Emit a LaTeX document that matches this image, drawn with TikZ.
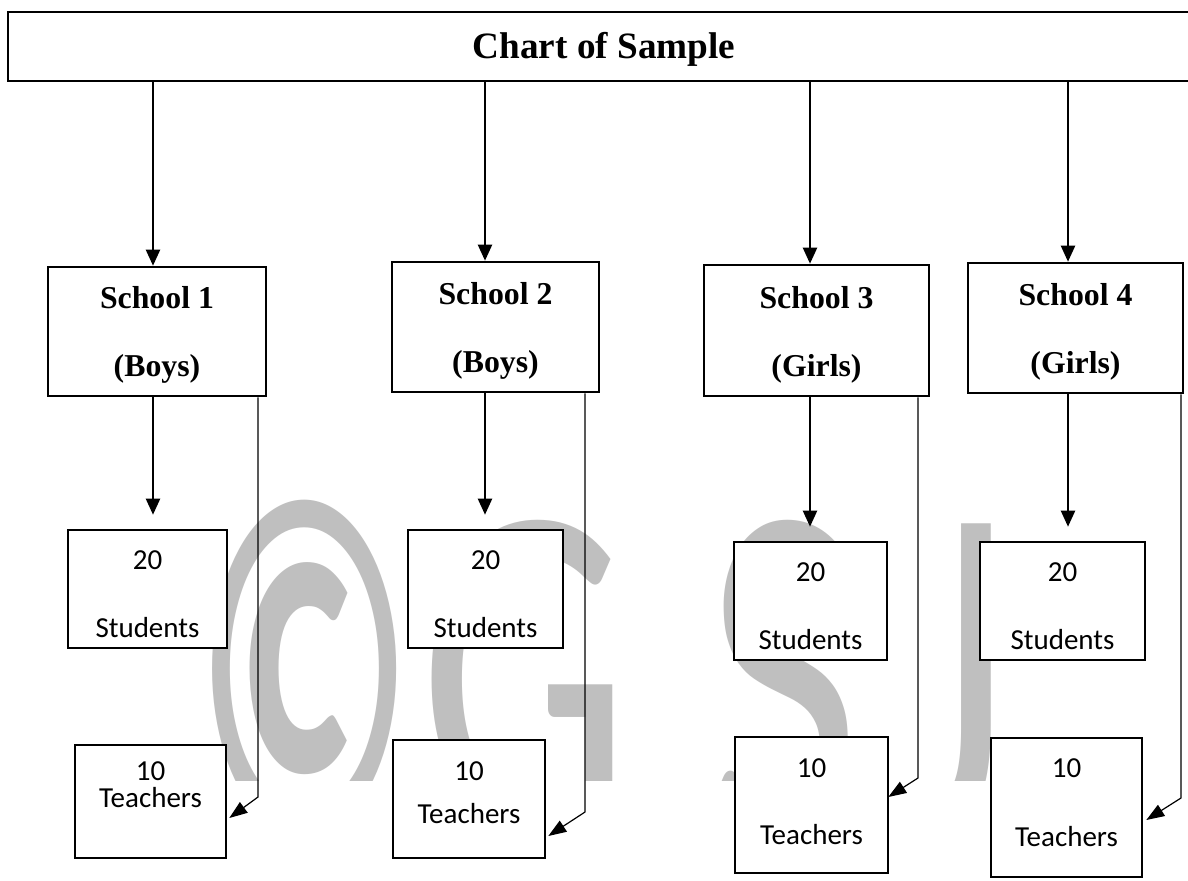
\documentclass[tikz,border=0pt]{standalone}
\usepackage{fontspec}
\setmainfont{Liberation Serif}
\newfontfamily\countfont{Carlito}
\usetikzlibrary{calc,arrows.meta,positioning}

\def\px{0.5pt}  % one pixel of the chart

\begin{document}
\begin{tikzpicture}[x=0.5pt,y=-0.5pt,
    box/.style={draw,line width=1.3pt,fill=white,inner sep=0pt,align=center},
    headbox/.style={box,text height=15.8pt,font=\bfseries\fontsize{18.6}{20}\selectfont},
    schoolbox/.style={box,text height=48.9pt,font=\bfseries\fontsize{15.9}{34pt}\selectfont},
    countbox/.style={box,font=\countfont\fontsize{14.5}{#1}\selectfont},
    arr/.style={line width=1.1pt,-{Triangle[length=8pt,width=7pt]}},
    thinarr/.style={line width=0.6pt,-{Triangle[length=9pt,width=6.5pt]}}]
    \useasboundingbox (0,0) rectangle (1188,880);
    \fill[white] (0,0) rectangle (1188,880);

    % Watermark behind the boxes, cut off at its lower part
    \begin{scope}
      \clip (0,0) rectangle (1188,780);
      \foreach \g/\gx/\sx [count=\k] in {{\bfseries ©}/305/0.79,G/525/1,S/783/1,J/957/1} {
        \node[anchor=base,inner sep=0pt,text=black!25,
              font=\countfont\fontsize{167}{167}\selectfont] (mark\k) at (\gx,834)
              {\scalebox{\sx}[1.45]{\g}};
      }
    \end{scope}

    % Title bar (runs off the right edge)
    \node[headbox,minimum width=1192*\px,minimum height=69*\px] (head) at (604,46.5)
      {Chart of Sample};

    % Schools
    \node[schoolbox,minimum width=218*\px,minimum height=129*\px] (s1) at (157,331.5) {School 1\\(Boys)};
    \node[schoolbox,minimum width=207*\px,minimum height=130*\px] (s2) at (495.5,327) {School 2\\(Boys)};
    \node[schoolbox,minimum width=225*\px,minimum height=131*\px] (s3) at (816.5,330.5) {School 3\\(Girls)};
    \node[schoolbox,minimum width=215*\px,minimum height=130*\px] (s4) at (1075.5,328) {School 4\\(Girls)};

    % Students
    \node[countbox=34pt,text height=48.7pt,minimum width=159*\px,minimum height=118*\px] (st1) at (147.5,589) {20\\Students};
    \node[countbox=34pt,text height=48.7pt,minimum width=155*\px,minimum height=118*\px] (st2) at (485.5,589) {20\\Students};
    \node[countbox=34pt,text height=48.7pt,minimum width=153*\px,minimum height=118*\px] (st3) at (810.5,601) {20\\Students};
    \node[countbox=34pt,text height=48.7pt,minimum width=165*\px,minimum height=118*\px] (st4) at (1062.5,601) {20\\Students};

    % Teachers
    \node[countbox=13.5pt,text depth=16.5pt,minimum width=151*\px,minimum height=113*\px] (t1) at (150.5,801.5) {10\\Teachers};
    \node[countbox=21.5pt,text depth=6pt,minimum width=152*\px,minimum height=118*\px] (t2) at (469,799) {10\\Teachers};
    \node[countbox=33.5pt,text depth=3pt,minimum width=153*\px,minimum height=136*\px] (t3) at (811.5,805) {10\\Teachers};
    \node[countbox=34.5pt,text depth=4.5pt,minimum width=151*\px,minimum height=139*\px] (t4) at (1066.5,807.5) {10\\Teachers};

    % x of the down arrows, bends of the side lines
    \coordinate (a1) at (153,0);
    \coordinate (a2) at (485,0);
    \coordinate (a3) at (810,0);
    \coordinate (a4) at (1068,0);
    \coordinate (b1) at (258,797);
    \coordinate (b2) at (585,812);
    \coordinate (b3) at (918,778);
    \coordinate (b4) at (1181,798);

    \foreach \i in {1,...,4} {
      \draw[arr] (head.south -| a\i) -- (s\i.north -| a\i);
      \draw[arr,shorten >=7pt] (s\i.south -| a\i) -- (st\i.north -| a\i);
    }
    \foreach \i/\dx/\dy in {1/2/16.5,2/2/37,3/-1/-8,4/3/12.5} {
      \draw[thinarr] (s\i.south -| b\i) -- (b\i) -- ($(t\i.east)+(\dx,\dy)$);
    }
\end{tikzpicture}
\end{document}
